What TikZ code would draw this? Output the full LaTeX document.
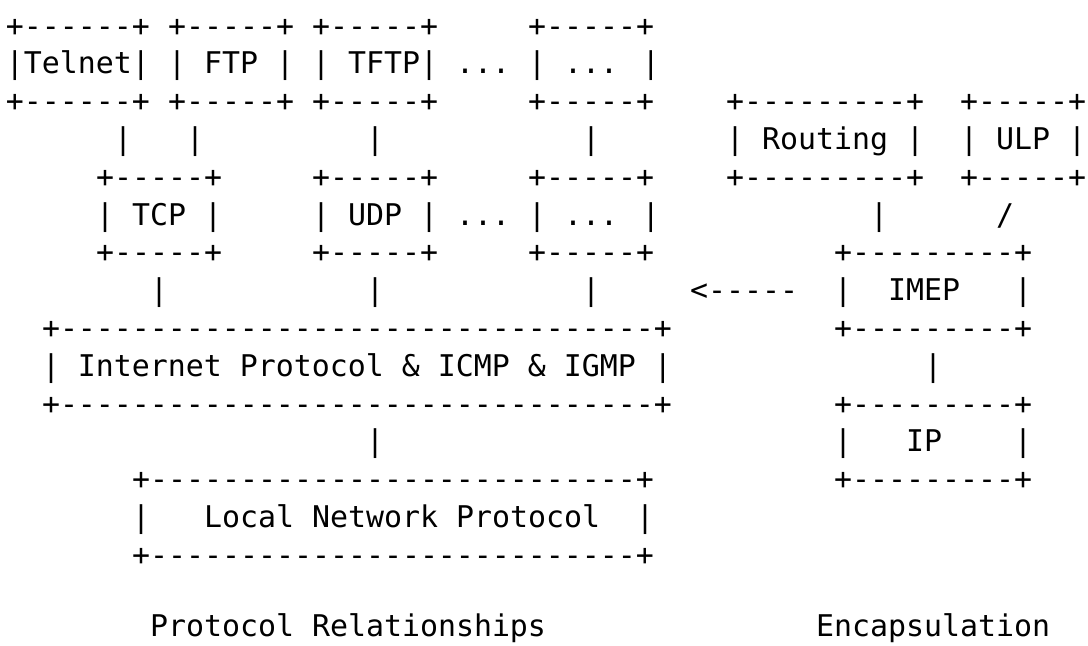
\documentclass[tikz,border=0pt]{standalone}
\usepackage{fontspec}
\newfontfamily\asciifont{DejaVu Sans Mono}[Ligatures=TeXOff]
% a border row of a text box: "+" , n dashes, "+"
\ExplSyntaxOn
\cs_new:Npn \asciirule #1 { + \prg_replicate:nn {#1} { - } + }
\ExplSyntaxOff
% one piece of text, placed on a character grid: name, column, row, text
\newcommand\piece[4]{\node[ch] (#1) at (#2,#3) {#4};}
\begin{document}
\begin{tikzpicture}[x=18pt,y=-37.8pt,
  ch/.style={anchor=base west,inner sep=0pt,outer sep=0pt,text=black,
    font=\asciifont\fontsize{29.9pt}{30pt}\selectfont}]
\fill[white] (-0.3333,0.0476) rectangle (60.1111,17.1111);
\useasboundingbox (-0.3333,0.0476) rectangle (60.1111,17.1111);

% application protocols
\piece{telnetT}{0}{1}{\asciirule{6}}
\piece{ftpT}{9}{1}{\asciirule{5}}
\piece{tftpT}{17}{1}{\asciirule{5}}
\piece{appT}{29}{1}{\asciirule{5}}
\piece{telnet}{0}{2}{|Telnet|}
\piece{ftp}{9}{2}{| FTP |}
\piece{tftp}{17}{2}{| TFTP|}
\piece{appDots}{25}{2}{...}
\piece{app}{29}{2}{| ... |}
\piece{telnetB}{0}{3}{\asciirule{6}}
\piece{ftpB}{9}{3}{\asciirule{5}}
\piece{tftpB}{17}{3}{\asciirule{5}}
\piece{appB}{29}{3}{\asciirule{5}}
\piece{telnetL}{6}{4}{|}
\piece{ftpL}{10}{4}{|}
\piece{tftpL}{20}{4}{|}
\piece{appL}{32}{4}{|}

% transport protocols
\piece{tcpT}{5}{5}{\asciirule{5}}
\piece{udpT}{17}{5}{\asciirule{5}}
\piece{trT}{29}{5}{\asciirule{5}}
\piece{tcp}{5}{6}{| TCP |}
\piece{udp}{17}{6}{| UDP |}
\piece{trDots}{25}{6}{...}
\piece{tr}{29}{6}{| ... |}
\piece{tcpB}{5}{7}{\asciirule{5}}
\piece{udpB}{17}{7}{\asciirule{5}}
\piece{trB}{29}{7}{\asciirule{5}}
\piece{tcpL}{8}{8}{|}
\piece{udpL}{20}{8}{|}
\piece{trL}{32}{8}{|}

% internet layer
\piece{inetT}{2}{9}{\asciirule{33}}
\piece{inet}{2}{10}{| Internet Protocol \& ICMP \& IGMP |}
\piece{inetB}{2}{11}{\asciirule{33}}
\piece{inetL}{20}{12}{|}

% local network
\piece{lnT}{7}{13}{\asciirule{27}}
\piece{lnLeft}{7}{14}{|}
\piece{ln}{11}{14}{Local Network Protocol}
\piece{lnRight}{35}{14}{|}
\piece{lnB}{7}{15}{\asciirule{27}}

% encapsulation stack
\piece{routingT}{40}{3}{\asciirule{9}}
\piece{ulpT}{53}{3}{\asciirule{5}}
\piece{routing}{40}{4}{| Routing |}
\piece{ulp}{53}{4}{| ULP |}
\piece{routingB}{40}{5}{\asciirule{9}}
\piece{ulpB}{53}{5}{\asciirule{5}}
\piece{routingL}{48}{6}{|}
\piece{ulpL}{55}{6}{/}
\piece{imepT}{46}{7}{\asciirule{9}}
\piece{arrow}{38}{8}{<-----}
\piece{imepLeft}{46}{8}{|}
\piece{imep}{49}{8}{IMEP}
\piece{imepRight}{56}{8}{|}
\piece{imepB}{46}{9}{\asciirule{9}}
\piece{imepL}{51}{10}{|}
\piece{ipT}{46}{11}{\asciirule{9}}
\piece{ipLeft}{46}{12}{|}
\piece{ip}{50}{12}{IP}
\piece{ipRight}{56}{12}{|}
\piece{ipB}{46}{13}{\asciirule{9}}

% captions, lifted a little so the descenders stay inside
\piece{capLeft}{8}{16.88}{Protocol Relationships}
\piece{capRight}{45}{16.88}{Encapsulation}
\end{tikzpicture}
\end{document}
